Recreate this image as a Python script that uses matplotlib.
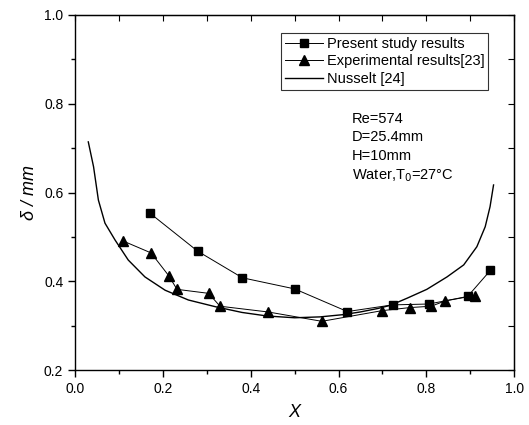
import matplotlib
matplotlib.use("Agg")
import matplotlib.pyplot as plt
from matplotlib.ticker import MultipleLocator

plt.rcParams['font.family'] = ['Liberation Sans', 'DejaVu Sans']

# present study results (squares)
x_present = [0.171, 0.279, 0.381, 0.500, 0.620, 0.723, 0.806, 0.894, 0.946]
y_present = [0.553, 0.468, 0.408, 0.383, 0.332, 0.347, 0.349, 0.366, 0.425]

# experimental results [23] (triangles)
x_exp = [0.109, 0.173, 0.213, 0.232, 0.304, 0.330, 0.440, 0.562, 0.699, 0.763, 0.811, 0.843, 0.910]
y_exp = [0.491, 0.464, 0.413, 0.382, 0.373, 0.344, 0.331, 0.310, 0.334, 0.341, 0.344, 0.356, 0.368]

# Nusselt [24] curve
x_nus = [0.030, 0.042, 0.053, 0.068, 0.091, 0.121, 0.159, 0.205, 0.258, 0.319, 0.380, 0.437,
         0.500, 0.558, 0.610, 0.649, 0.690, 0.718, 0.756, 0.801, 0.847, 0.885, 0.915, 0.934,
         0.945, 0.953]
y_nus = [0.714, 0.658, 0.583, 0.531, 0.493, 0.448, 0.410, 0.380, 0.358, 0.343, 0.330, 0.322,
         0.318, 0.320, 0.325, 0.331, 0.339, 0.346, 0.362, 0.382, 0.410, 0.437, 0.478, 0.523,
         0.568, 0.617]

fig = plt.figure(figsize=(5.29, 4.25), dpi=100)
ax = fig.add_axes([0.142, 0.129, 0.830, 0.836])

ax.plot(x_present, y_present, color='black', lw=0.7, marker='s', ms=5.5,
        label='Present study results')
ax.plot(x_exp, y_exp, color='black', lw=0.7, marker='^', ms=7,
        label='Experimental results[23]')
ax.plot(x_nus, y_nus, color='black', lw=1.0, label='Nusselt [24]')

ax.set_xlim(0, 1.0)
ax.set_ylim(0.2, 1.0)
ax.xaxis.set_major_locator(MultipleLocator(0.2))
ax.xaxis.set_minor_locator(MultipleLocator(0.1))
ax.yaxis.set_major_locator(MultipleLocator(0.2))
ax.yaxis.set_minor_locator(MultipleLocator(0.1))
ax.tick_params(which='major', direction='out', length=5, width=1, labelsize=10)
ax.tick_params(which='minor', direction='out', length=3, width=1)
for s in ax.spines.values():
    s.set_linewidth(1.0)

# inward ticks on top and right
top = ax.secondary_xaxis('top')
top.xaxis.set_major_locator(MultipleLocator(0.1))
top.tick_params(direction='in', length=4, labeltop=False)
right = ax.secondary_yaxis('right')
right.yaxis.set_major_locator(MultipleLocator(0.1))
right.tick_params(direction='in', length=4, labelright=False)

ax.set_xlabel('X', fontsize=13, style='italic', labelpad=6)
ax.set_ylabel('δ / mm', fontsize=13, style='italic', labelpad=4)

leg = ax.legend(loc='upper right', bbox_to_anchor=(0.941, 0.949), fontsize=10.5,
                frameon=True, fancybox=False, edgecolor='black', handlelength=2.6,
                borderpad=0.25, labelspacing=0.25, handletextpad=0.3, borderaxespad=0)
leg.get_frame().set_linewidth(0.8)

ax.text(0.630, 0.727, 'Re=574\nD=25.4mm\nH=10mm\nWater,T$_0$=27°C',
        transform=ax.transAxes, fontsize=10.5, va='top', ha='left', linespacing=1.4)

fig.savefig('out.png', dpi=100)
